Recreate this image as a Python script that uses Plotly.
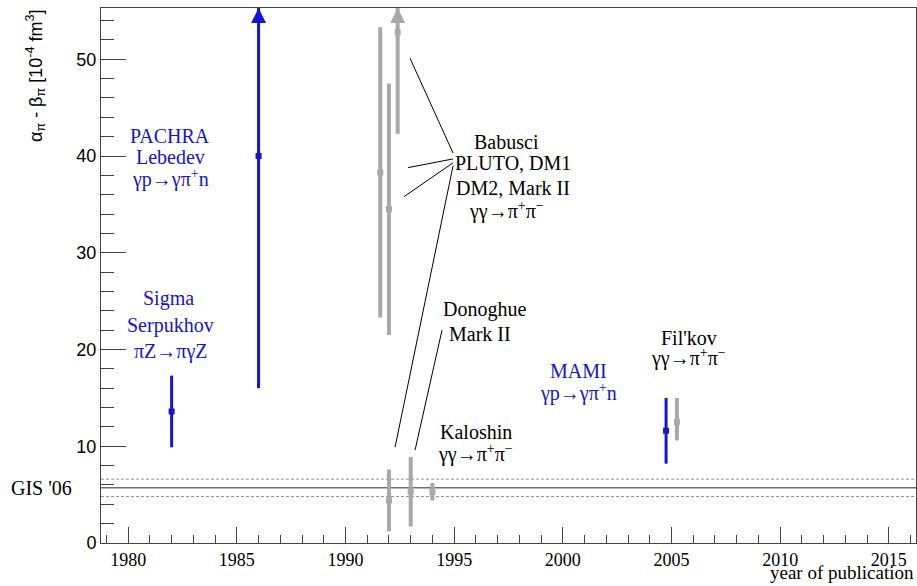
import plotly.graph_objects as go

# ---------------- data ----------------
X_RANGE = [1978.75, 2016.25]
Y_MAX = 55.3

# blue: Compton scattering on proton / Primakoff
blue_year = [1982.0, 1986.0, 2004.75]
blue_val = [13.6, 40.0, 11.6]
blue_err_lo = [3.7, 24.0, 3.4]
blue_err_hi = [3.7, 24.0, 3.4]
blue_arrow = [False, True, False]

# gray: gamma gamma -> pi+ pi-
gray_year = [1991.6, 1992.0, 1992.4, 1992.0, 1993.0, 1994.0, 2005.25]
gray_val = [38.3, 34.5, 52.8, 4.4, 5.3, 5.3, 12.5]
gray_err_lo = [15.0, 13.0, 10.5, 3.2, 3.6, 0.9, 1.9]
gray_err_hi = [15.0, 13.0, 20.0, 3.2, 3.6, 0.9, 2.5]
gray_arrow = [False, False, True, False, False, False, False]

# GIS '06 band
gis_val = 5.7
gis_lo = 4.8
gis_hi = 6.6

# labels: (text, x, y, colour)
BLUE = "#1414d2"
GRAY = "#a8a8a8"
labels = [
    ("PACHRA", 1981.93, 42.1, BLUE),
    ("Lebedev", 1981.93, 39.9, BLUE),
    ("γp→γπ<sup>+</sup>n", 1981.93, 37.7, BLUE),
    ("Sigma", 1981.85, 25.3, BLUE),
    ("Serpukhov", 1981.93, 22.5, BLUE),
    ("πZ→πγZ", 1981.93, 19.8, BLUE),
    ("Babusci", 1997.4, 41.4, "black"),
    ("PLUTO, DM1", 1997.7, 39.3, "black"),
    ("DM2, Mark II", 1997.7, 36.7, "black"),
    ("γγ→π<sup>+</sup>π<sup>−</sup>", 1997.4, 34.4, "black"),
    ("Donoghue", 1996.4, 24.1, "black"),
    ("Mark II", 1996.2, 21.6, "black"),
    ("Kaloshin", 1996.0, 11.5, "black"),
    ("γγ→π<sup>+</sup>π<sup>−</sup>", 1996.0, 9.3, "black"),
    ("MAMI", 2000.7, 17.8, BLUE),
    ("γp→γπ<sup>+</sup>n", 2000.7, 15.6, BLUE),
    ("Fil'kov", 2005.8, 21.2, "black"),
    ("γγ→π<sup>+</sup>π<sup>−</sup>", 2005.8, 19.2, "black"),
]

# leader lines from labels to points: (x0, y0, x1, y1)
leaders = [
    (1994.95, 40.3, 1992.97, 50.1),
    (1994.95, 39.7, 1992.88, 38.8),
    (1994.95, 39.3, 1992.69, 35.8),
    (1994.95, 39.0, 1992.28, 9.9),
    (1994.44, 22.0, 1993.20, 9.6),
]

SERIF = "Liberation Serif"
SANS = "Liberation Sans"

fig = go.Figure()


def add_points(years, vals, lo, hi, arrows, color, lw, msize):
    up = [(Y_MAX - v) if a else min(h, Y_MAX - v) for v, h, a in zip(vals, hi, arrows)]
    fig.add_trace(go.Scatter(
        x=years, y=vals, mode="markers",
        marker=dict(symbol="square", size=msize, color=color),
        error_y=dict(type="data", symmetric=False, array=up, arrayminus=lo,
                     color=color, thickness=lw, width=0),
        showlegend=False, hoverinfo="skip"))
    ax = [y for y, a in zip(years, arrows) if a]
    if ax:
        fig.add_trace(go.Scatter(
            x=ax, y=[Y_MAX] * len(ax), mode="markers", cliponaxis=False,
            marker=dict(symbol="arrow-up", size=15, color=color, line=dict(width=0)),
            showlegend=False, hoverinfo="skip"))


add_points(gray_year, gray_val, gray_err_lo, gray_err_hi, gray_arrow, GRAY, 4, 6)
add_points(blue_year, blue_val, blue_err_lo, blue_err_hi, blue_arrow, BLUE, 3, 6)

# GIS band lines
fig.add_shape(type="line", xref="paper", x0=0, x1=1, yref="y", y0=gis_val, y1=gis_val,
              line=dict(color="#707070", width=1.5), layer="below")
for yv in (gis_lo, gis_hi):
    fig.add_shape(type="line", xref="paper", x0=0, x1=1, yref="y", y0=yv, y1=yv,
                  line=dict(color="#909090", width=1, dash="3px,2px"), layer="below")

for x0, y0, x1, y1 in leaders:
    fig.add_shape(type="line", x0=x0, y0=y0, x1=x1, y1=y1,
                  line=dict(color="black", width=1))

for text, x, y, col in labels:
    fig.add_annotation(x=x, y=y, text=text, showarrow=False, xanchor="center",
                       yanchor="middle", font=dict(family=SERIF, size=20, color=col))

fig.add_annotation(xref="paper", yref="y", x=-0.113, y=gis_val, text="GIS '06",
                   showarrow=False, xanchor="left", yanchor="middle",
                   font=dict(family=SERIF, size=20, color="black"))

fig.add_annotation(xref="paper", yref="paper", x=1.0, y=-0.079, text="year of publication",
                   showarrow=False, xanchor="right", yanchor="bottom",
                   font=dict(family=SERIF, size=19, color="black"))

fig.add_annotation(xref="paper", yref="paper", x=-0.081, y=1.0,
                   text="α<sub>π</sub> - β<sub>π</sub> [10<sup>-4</sup> fm<sup>3</sup>]",
                   textangle=-90, showarrow=False, xanchor="center", yanchor="top",
                   font=dict(family=SANS, size=18, color="black"))

AX = "#444444"
fig.update_layout(
    width=917, height=586,
    margin=dict(l=101, r=1, t=8, b=43),
    paper_bgcolor="white", plot_bgcolor="white",
    xaxis=dict(range=X_RANGE, tick0=1980, dtick=5, ticks="inside", ticklen=16,
               tickcolor=AX, tickwidth=1, showline=True, linecolor=AX, linewidth=1,
               mirror=True, showgrid=False, zeroline=False, automargin=False,
               tickfont=dict(family=SERIF, size=18, color="black"),
               minor=dict(dtick=1, tick0=1980, ticks="inside", ticklen=8,
                          tickcolor=AX, showgrid=False)),
    yaxis=dict(range=[0, Y_MAX], tick0=0, dtick=10, ticks="inside", ticklen=25,
               tickcolor=AX, tickwidth=1, showline=True, linecolor=AX, linewidth=1,
               mirror=True, showgrid=False, zeroline=False, automargin=False,
               tickfont=dict(family=SANS, size=18, color="black"),
               minor=dict(dtick=2, tick0=0, ticks="inside", ticklen=13,
                          tickcolor=AX, showgrid=False)),
)

# remove the default page margin so the 917x586 figure fills the window exactly
fig.write_html(
    "out.html",
    config={"displayModeBar": False},
    post_script="document.body.style.margin='0';document.body.style.overflow='hidden';",
)
